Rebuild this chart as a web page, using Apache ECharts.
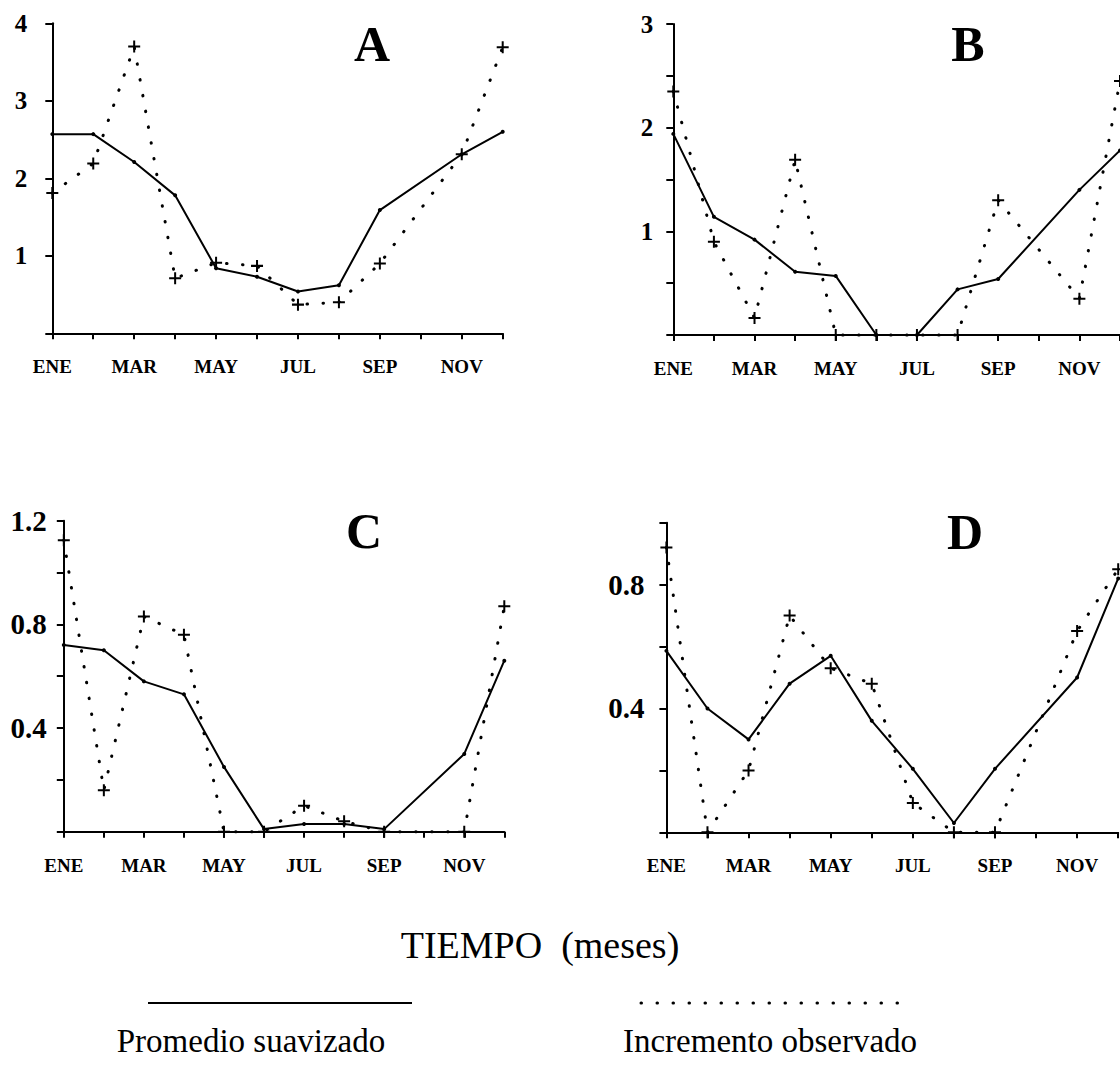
<!DOCTYPE html>
<html>
<head>
<meta charset="utf-8">
<script src="https://cdn.jsdelivr.net/npm/echarts@6/dist/echarts.min.js"></script>
<style>
html,body{margin:0;padding:0;background:#fff;}
#chart{width:1120px;height:1066px;}
</style>
</head>
<body>
<div id="chart"></div>
<script>
// ---- data ----
const months = ['ENE','FEB','MAR','ABR','MAY','JUN','JUL','AGO','SEP','OCT','NOV','DIC'];
const panelLabels = ['A','B','C','D'];
const seriesNames = ['Promedio suavizado','Incremento observado'];

const smoothA = [2.57, 2.57, 2.21, 1.78, 0.84, 0.73, 0.54, 0.62, 1.59, null, 2.31, 2.60];
const obsA    = [1.81, 2.19, 3.70, 0.71, 0.91, 0.87, 0.37, 0.40, 0.90, null, 2.31, 3.69];

const smoothB = [1.94, 1.14, 0.92, 0.61, 0.57, 0.00, 0.00, 0.44, 0.54, null, 1.40, 1.78];
const obsB    = [2.35, 0.90, 0.165, 1.69, 0.00, 0.00, 0.00, 0.00, 1.30, null, 0.35, 2.45];

const smoothC = [0.72, 0.70, 0.58, 0.53, 0.25, 0.01, 0.03, 0.03, 0.01, null, 0.30, 0.66];
const obsC    = [1.125, 0.16, 0.83, 0.76, 0.00, 0.00, 0.10, 0.04, 0.00, null, 0.00, 0.87];

const smoothD = [0.586, 0.40, 0.30, 0.48, 0.57, 0.36, 0.205, 0.03, 0.205, null, 0.50, 0.82];
const obsD    = [0.92, 0.00, 0.20, 0.70, 0.53, 0.48, 0.095, 0.00, 0.00, null, 0.65, 0.85];

// y-axis scales: max, tick interval, label step
const yMax      = [4, 3, 1.2, 1.0];
const yInterval = [1, 0.5, 0.2, 0.2];
const yLabelStep= [1, 1, 0.4, 0.4];

const smoothAll = [smoothA, smoothB, smoothC, smoothD];
const obsAll = [obsA, obsB, obsC, obsD];

// ---- layout / style ----
const grids = [
  {left: 52.3, top: 23.3, width: 450.4, height: 310},
  {left: 673.3, top: 24, width: 450.3, height: 311},
  {left: 63.8, top: 520.7, width: 440.5, height: 311},
  {left: 666.4, top: 522.7, width: 451.8, height: 309.6}
];
const yLabelMargin = [25, 20, 17, 22];
const yLabelSize = [25, 25, 29, 29];
const titlePos = [[372, 44], [968, 44], [364, 531], [965, 532]];

const SERIF = "'Liberation Serif','Times New Roman',serif";
const plusPath = 'path://M5,0L7,0L7,5L12,5L12,7L7,7L7,12L5,12L5,7L0,7L0,5L5,5Z';
const dotted = [0.5, 15.5];

const xAxes = [], yAxes = [], series = [], graphics = [];
for (let i = 0; i < 4; i++) {
  xAxes.push({
    gridIndex: i, type: 'category', data: months, boundaryGap: false,
    axisLine: {show: true, lineStyle: {color: '#000', width: 2}},
    axisTick: {show: true, interval: 0, length: 6, lineStyle: {color: '#000', width: 2}},
    axisLabel: {interval: 1, color: '#000', fontFamily: SERIF, fontWeight: 'bold', fontSize: 19, margin: 24},
    splitLine: {show: false}
  });
  const step = yLabelStep[i];
  yAxes.push({
    gridIndex: i, type: 'value', min: 0, max: yMax[i], interval: yInterval[i],
    axisLine: {show: true, lineStyle: {color: '#000', width: 2}},
    axisTick: {show: true, length: 7, lineStyle: {color: '#000', width: 2}},
    axisLabel: {
      color: '#000', fontFamily: SERIF, fontWeight: 'bold', fontSize: yLabelSize[i], margin: yLabelMargin[i],
      formatter: function (v) {
        if (v <= 0) return '';
        const r = v / step;
        if (Math.abs(r - Math.round(r)) > 1e-6) return '';
        return step < 1 ? v.toFixed(1) : String(v);
      }
    },
    splitLine: {show: false}
  });
  series.push({
    name: seriesNames[0], type: 'line', xAxisIndex: i, yAxisIndex: i,
    data: smoothAll[i], connectNulls: true, clip: false,
    symbol: 'circle', symbolSize: 4, showAllSymbol: true,
    lineStyle: {color: '#000', width: 2},
    itemStyle: {color: '#000'}, z: 3
  });
  series.push({
    name: seriesNames[1], type: 'line', xAxisIndex: i, yAxisIndex: i,
    data: obsAll[i], connectNulls: true, clip: false,
    symbol: plusPath, symbolSize: 12, showAllSymbol: true,
    lineStyle: {color: '#000', width: 3, type: dotted, cap: 'round'},
    itemStyle: {color: '#000'}, z: 2
  });
  graphics.push({
    type: 'text', x: titlePos[i][0], y: titlePos[i][1],
    style: {text: panelLabels[i], fill: '#000', font: 'bold 50px ' + SERIF, align: 'center', verticalAlign: 'middle'}
  });
}

// axis title and legend keys
graphics.push({
  type: 'text', x: 540, y: 945,
  style: {text: 'TIEMPO  (meses)', fill: '#000', font: '38px ' + SERIF, align: 'center', verticalAlign: 'middle'}
});
graphics.push({
  type: 'line', shape: {x1: 148, y1: 1003, x2: 412, y2: 1003},
  style: {stroke: '#000', lineWidth: 2}
});
graphics.push({
  type: 'line', shape: {x1: 641, y1: 1003, x2: 905, y2: 1003},
  style: {stroke: '#000', lineWidth: 3, lineDash: [0.5, 15.5], lineCap: 'round'}
});
graphics.push({
  type: 'text', x: 251, y: 1041,
  style: {text: seriesNames[0], fill: '#000', font: '33px ' + SERIF, align: 'center', verticalAlign: 'middle'}
});
graphics.push({
  type: 'text', x: 770, y: 1041,
  style: {text: seriesNames[1], fill: '#000', font: '33px ' + SERIF, align: 'center', verticalAlign: 'middle'}
});

const chart = echarts.init(document.getElementById('chart'), null, {renderer: 'svg'});
chart.setOption({
  animation: false,
  backgroundColor: '#fff',
  grid: grids,
  xAxis: xAxes,
  yAxis: yAxes,
  series: series,
  graphic: graphics
});
</script>
</body>
</html>
